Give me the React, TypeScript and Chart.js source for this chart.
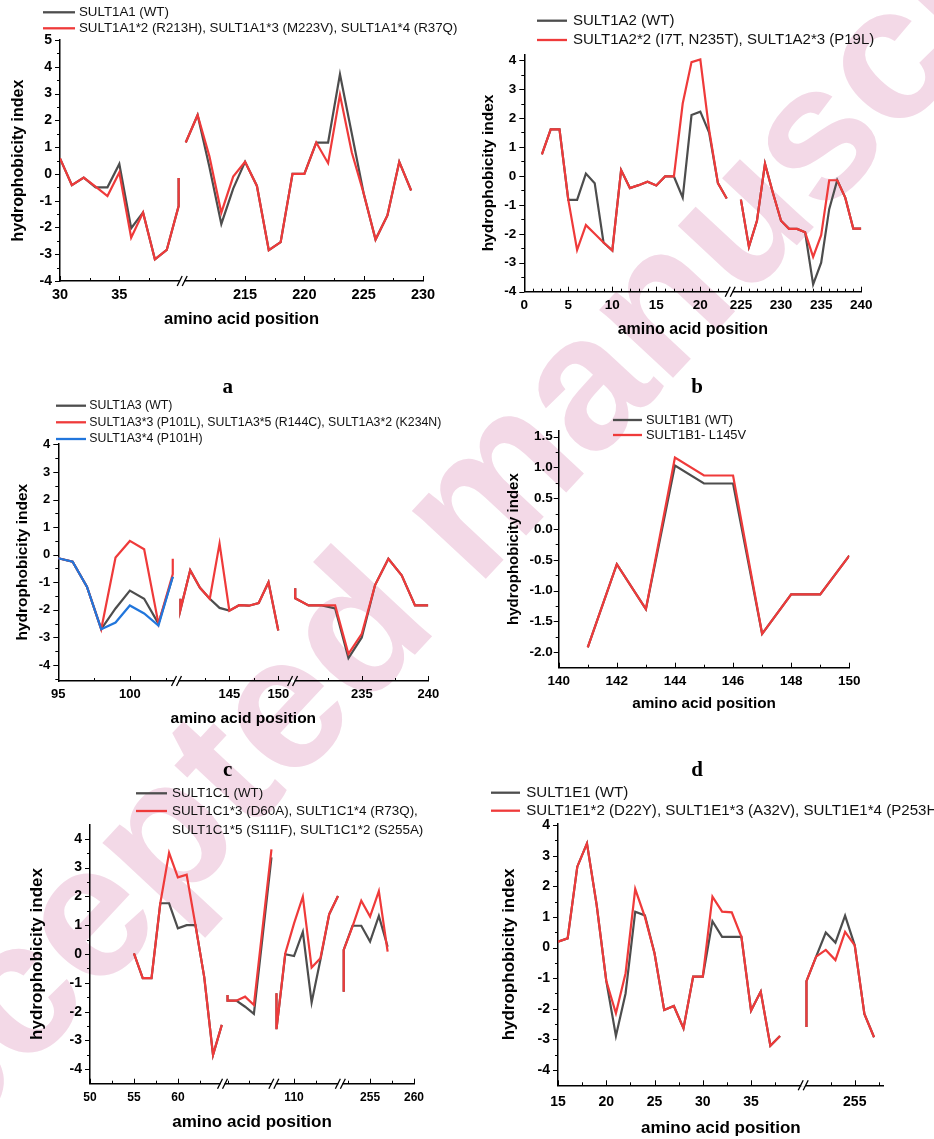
import React, { useEffect, useRef } from "react";
import { Chart, registerables } from "chart.js";

Chart.register(...registerables);

const SANS = '"Liberation Sans", Arial, Helvetica, sans-serif';
const SERIF = '"Liberation Serif", "Times New Roman", serif';
const GRAY = "#4d4d4d";
const RED = "#ef3a3a";
const BLUE = "#2176dc";

// ---------- Panel a : SULT1A1 ----------
const A_POS = [30, 31, 32, 33, 34, 35, 36, 37, 38, 39, 40, 40, null, 210, 211, 212, 213, 214, 215, 216, 217, 218, 219, 220, 221, 222, 223, 224, 225, 226, 227, 228, 229];
const A_WT = [0.58, -0.42, -0.14, -0.5, -0.5, 0.37, -2.03, -1.44, -3.19, -2.84, -1.2, -0.15, null, 1.17, 2.2, 0.25, -1.87, -0.55, 0.45, -0.45, -2.85, -2.55, 0, 0, 1.17, 1.17, 3.72, 1.5, -0.73, -2.45, -1.55, 0.45, -0.62];
const A_MUT = [0.58, -0.42, -0.14, -0.48, -0.83, 0.05, -2.38, -1.44, -3.19, -2.84, -1.2, -0.15, null, 1.17, 2.2, 0.65, -1.45, -0.1, 0.45, -0.45, -2.85, -2.55, 0, 0, 1.17, 0.4, 2.95, 0.8, -0.73, -2.45, -1.55, 0.45, -0.62];
const A_XTICKS = [30, 35, 215, 220, 225, 230];
const A_YTICKS = [-4, -3, -2, -1, 0, 1, 2, 3, 4, 5];

// ---------- Panel b : SULT1A2 ----------
const B_POS = [2, 3, 4, 5, 6, 7, 8, 9, 10, 11, 12, 13, 14, 15, 16, 17, 18, 19, 20, 21, 22, 23, null, 225, 226, 227, 228, 229, 230, 231, 232, 233, 234, 235, 236, 237, 238, 239, 240];
const B_WT = [0.74, 1.61, 1.61, -0.83, -0.83, 0.08, -0.25, -2.3, -2.58, 0.2, -0.42, -0.32, -0.2, -0.33, -0.02, -0.02, -0.75, 2.1, 2.22, 1.5, -0.25, -0.78, null, -0.82, -2.45, -1.55, 0.42, -0.6, -1.55, -1.83, -1.83, -1.95, -3.75, -3.0, -1.15, -0.15, -0.75, -1.82, -1.82];
const B_MUT = [0.74, 1.61, 1.61, -0.83, -2.56, -1.7, -2.0, -2.3, -2.58, 0.2, -0.42, -0.32, -0.2, -0.33, -0.02, -0.02, 2.5, 3.93, 4.02, 1.6, -0.25, -0.78, null, -0.82, -2.45, -1.55, 0.42, -0.6, -1.55, -1.83, -1.83, -1.95, -2.8, -2.05, -0.15, -0.15, -0.75, -1.82, -1.82];
const B_XTICKS = [0, 5, 10, 15, 20, 225, 230, 235, 240];
const B_YTICKS = [-4, -3, -2, -1, 0, 1, 2, 3, 4];

// ---------- Panel c : SULT1A3 ----------
const C_POS = [95, 96, 97, 98, 99, 100, 101, 102, 103, 103, null, 140, 140, 141, 142, 143, 144, 145, 146, 147, 148, 149, 150, null, 230, 230, 231, 232, 233, 234, 235, 236, 237, 238, 239, 240];
const C_WT = [-0.13, -0.25, -1.16, -2.7, -1.95, -1.3, -1.6, -2.5, -0.8, -0.8, null, -1.6, -2.0, -0.56, -1.2, -1.6, -1.93, -2.03, -1.83, -1.85, -1.75, -1.0, -2.75, null, -1.22, -1.58, -1.84, -1.84, -1.95, -3.75, -3.0, -1.1, -0.15, -0.75, -1.84, -1.84];
const C_MUT = [-0.13, -0.25, -1.16, -2.7, -0.1, 0.5, 0.2, -2.5, -0.7, -0.15, null, -1.6, -2.0, -0.56, -1.2, -1.6, 0.4, -2.03, -1.83, -1.85, -1.75, -1.0, -2.75, null, -1.22, -1.58, -1.84, -1.84, -1.84, -3.6, -2.87, -1.1, -0.15, -0.75, -1.84, -1.84];
const C_P101H = [-0.13, -0.25, -1.16, -2.7, -2.46, -1.84, -2.13, -2.57, -0.8, -0.8, null, null, null, null, null, null, null, null, null, null, null, null, null, null, null, null, null, null, null, null, null, null, null, null, null, null];
const C_XTICKS = [95, 100, 145, 150, 235, 240];
const C_YTICKS = [-4, -3, -2, -1, 0, 1, 2, 3, 4];

// ---------- Panel d : SULT1B1 ----------
const D_POS = [141, 142, 143, 144, 145, 146, 147, 148, 149, 150];
const D_WT = [-1.92, -0.57, -1.3, 1.03, 0.74, 0.74, -1.7, -1.06, -1.06, -0.43];
const D_MUT = [-1.92, -0.57, -1.3, 1.16, 0.87, 0.87, -1.7, -1.06, -1.06, -0.43];
const D_XTICKS = [140, 142, 144, 146, 148, 150];
const D_YTICKS = [-2, -1.5, -1, -0.5, 0, 0.5, 1, 1.5];

// ---------- Panel e : SULT1C1 ----------
const E_POS = [55, 56, 57, 58, 59, 60, 61, 62, 63, 64, 65, null, 70, 70, 71, 72, 73, 74, 75, null, 108, 108, 109, 110, 111, 112, 113, 114, 115, null, 252, 252, 253, 254, 255, 256, 257];
const E_WT = [0.02, -0.84, -0.84, 1.76, 1.76, 0.89, 1.0, 1.0, -0.8, -3.5, -2.46, null, -1.42, -1.62, -1.62, -1.83, -2.08, 0.63, 3.35, null, -1.36, -2.61, -0.01, -0.07, 0.77, -1.68, -0.2, 1.38, 2.01, null, -1.31, 0.14, 0.98, 0.98, 0.43, 1.32, 0.25];
const E_MUT = [0.02, -0.84, -0.84, 1.76, 3.51, 2.66, 2.75, 1.0, -0.8, -3.5, -2.46, null, -1.42, -1.62, -1.62, -1.48, -1.77, 0.93, 3.63, null, -1.36, -2.61, 0.02, 1.06, 1.99, -0.47, -0.15, 1.38, 2.01, null, -1.31, 0.14, 0.95, 1.85, 1.3, 2.18, 0.08];
const E_XTICKS = [50, 55, 60, 110, 255, 260];
const E_YTICKS = [-4, -3, -2, -1, 0, 1, 2, 3, 4];

// ---------- Panel f : SULT1E1 ----------
const F_POS = [15, 16, 17, 18, 19, 20, 21, 22, 23, 24, 25, 26, 27, 28, 29, 30, 31, 32, 33, 34, 35, 36, 37, 38, null, 250, 250, 251, 252, 253, 254, 255, 256, 257];
const F_WT = [0.19, 0.3, 2.64, 3.4, 1.4, -1.09, -2.89, -1.5, 1.17, 1.05, -0.19, -2.04, -1.91, -2.64, -0.95, -0.95, 0.86, 0.35, 0.35, 0.35, -2.06, -1.44, -3.21, -2.89, null, -2.6, -1.1, -0.3, 0.49, 0.16, 1.04, 0.07, -2.17, -2.93];
const F_MUT = [0.19, 0.3, 2.64, 3.4, 1.4, -1.09, -2.15, -0.84, 1.91, 1.0, -0.19, -2.04, -1.91, -2.64, -0.95, -0.95, 1.66, 1.17, 1.15, 0.35, -2.06, -1.44, -3.21, -2.89, null, -2.6, -1.1, -0.3, -0.08, -0.41, 0.51, 0.07, -2.17, -2.93];
const F_XTICKS = [15, 20, 25, 30, 35, 255];
const F_YTICKS = [-4, -3, -2, -1, 0, 1, 2, 3, 4];

// ---------- broken-axis segments (residue ranges shown on each axis) ----------
type Seg = { lo: number; hi: number; k: number };
const SEG_A: Seg[] = [{ lo: 30, hi: 40.3, k: 1 }, { lo: 209.7, hi: 230, k: 1 }];
const SEG_B: Seg[] = [{ lo: 0, hi: 23.4, k: 1 }, { lo: 223.67, hi: 240, k: 0.912 }];
const SEG_C: Seg[] = [{ lo: 95, hi: 103.26, k: 1 }, { lo: 139.6, hi: 151.46, k: 0.684 }, { lo: 229.8, hi: 240, k: 0.93 }];
const SEG_D: Seg[] = [{ lo: 140, hi: 150, k: 1 }];
const SEG_E: Seg[] = [{ lo: 50, hi: 65.08, k: 1 }, { lo: 69.43, hi: 75.27, k: 1 }, { lo: 107.7, hi: 115.27, k: 1 }, { lo: 251.62, hi: 260, k: 1 }];
const SEG_F: Seg[] = [{ lo: 15, hi: 40.4, k: 1 }, { lo: 249.66, hi: 258, k: 1 }];

type Rect = { x: number; y: number; w: number; h: number };
type Area = { l: number; t: number; r: number; b: number };
type SeriesDef = { label: string[]; values: (number | null)[]; color: string };
type PanelCfg = {
  box: Rect; area: Area; segs: Seg[]; pos: (number | null)[]; series: SeriesDef[];
  xTicks: number[]; xMinorStep: number; yTicks: number[]; yMinorStep: number;
  yMin: number; yMax: number; yDigits: number;
  xTickSize: number; yTickSize: number; xTitleSize: number; yTitleSize: number;
  xTickPad: number; yTickPad: number; xTitlePad: number; yTitlePad: number;
  legend: { x0: number; x1: number; tx: number; rows: number[]; size: number; gap: number };
};

const PANELS: PanelCfg[] = [
  {
    box: { x: 0, y: 0, w: 467, h: 345 }, area: { l: 60, t: 40, r: 423, b: 281 }, segs: SEG_A, pos: A_POS,
    series: [
      { label: ["SULT1A1 (WT)"], values: A_WT, color: GRAY },
      { label: ["SULT1A1*2 (R213H), SULT1A1*3 (M223V), SULT1A1*4 (R37Q)"], values: A_MUT, color: RED },
    ],
    xTicks: A_XTICKS, xMinorStep: 2.5, yTicks: A_YTICKS, yMinorStep: 0.5, yMin: -4, yMax: 5, yDigits: 0,
    xTickSize: 14.5, yTickSize: 14, xTitleSize: 16.5, yTitleSize: 16,
    xTickPad: 5.3, yTickPad: 8, xTitlePad: 16.1, yTitlePad: 9.4,
    legend: { x0: 43, x1: 75, tx: 79, rows: [12.3, 28.3], size: 13.3, gap: 16 },
  },
  {
    box: { x: 467, y: 0, w: 467, h: 345 }, area: { l: 524.3, t: 54.3, r: 861.3, b: 291.7 }, segs: SEG_B, pos: B_POS,
    series: [
      { label: ["SULT1A2 (WT)"], values: B_WT, color: GRAY },
      { label: ["SULT1A2*2 (I7T, N235T), SULT1A2*3 (P19L)"], values: B_MUT, color: RED },
    ],
    xTicks: B_XTICKS, xMinorStep: 1, yTicks: B_YTICKS, yMinorStep: 0.5, yMin: -4, yMax: 4.2, yDigits: 0,
    xTickSize: 13.5, yTickSize: 13.5, xTitleSize: 16, yTitleSize: 15.5,
    xTickPad: 5.2, yTickPad: 8, xTitlePad: 5.4, yTitlePad: 12.4,
    legend: { x0: 537, x1: 567, tx: 573, rows: [20.7, 40], size: 15, gap: 19 },
  },
  {
    box: { x: 0, y: 395, w: 467, h: 340 }, area: { l: 58.3, t: 443.3, r: 428.3, b: 681 }, segs: SEG_C, pos: C_POS,
    series: [
      { label: ["SULT1A3 (WT)"], values: C_WT, color: GRAY },
      { label: ["SULT1A3*3 (P101L), SULT1A3*5 (R144C), SULT1A3*2 (K234N)"], values: C_MUT, color: RED },
      { label: ["SULT1A3*4 (P101H)"], values: C_P101H, color: BLUE },
    ],
    xTicks: C_XTICKS, xMinorStep: 2.5, yTicks: C_YTICKS, yMinorStep: 0.5, yMin: -4.58, yMax: 4.04, yDigits: 0,
    xTickSize: 13, yTickSize: 13, xTitleSize: 15.5, yTitleSize: 15.5,
    xTickPad: 5.5, yTickPad: 8, xTitlePad: 6.7, yTitlePad: 13.4,
    legend: { x0: 56, x1: 86, tx: 89.3, rows: [405.7, 422.3, 439], size: 12.3, gap: 16 },
  },
  {
    box: { x: 467, y: 395, w: 467, h: 340 }, area: { l: 558.7, t: 430.5, r: 849.3, b: 667.7 }, segs: SEG_D, pos: D_POS,
    series: [
      { label: ["SULT1B1 (WT)"], values: D_WT, color: GRAY },
      { label: ["SULT1B1- L145V"], values: D_MUT, color: RED },
    ],
    xTicks: D_XTICKS, xMinorStep: 1, yTicks: D_YTICKS, yMinorStep: 0.25, yMin: -2.25, yMax: 1.6, yDigits: 1,
    xTickSize: 13.5, yTickSize: 13.5, xTitleSize: 15.3, yTitleSize: 15,
    xTickPad: 5.9, yTickPad: 6, xTitlePad: 21.8, yTitlePad: 37.7,
    legend: { x0: 613, x1: 642, tx: 646, rows: [420, 435], size: 12.9, gap: 15 },
  },
  {
    box: { x: 0, y: 780, w: 467, h: 359 }, area: { l: 90, t: 824.3, r: 414, b: 1083.7 }, segs: SEG_E, pos: E_POS,
    series: [
      { label: ["SULT1C1 (WT)"], values: E_WT, color: GRAY },
      { label: ["SULT1C1*3 (D60A), SULT1C1*4 (R73Q),", "SULT1C1*5 (S111F), SULT1C1*2 (S255A)"], values: E_MUT, color: RED },
    ],
    xTicks: E_XTICKS, xMinorStep: 2.5, yTicks: E_YTICKS, yMinorStep: 0.5, yMin: -4.5, yMax: 4.5, yDigits: 0,
    xTickSize: 12, yTickSize: 14, xTitleSize: 17, yTitleSize: 17,
    xTickPad: 6.8, yTickPad: 8, xTitlePad: 6.5, yTitlePad: 27.1,
    legend: { x0: 136, x1: 167, tx: 172, rows: [793.3, 811], size: 13.4, gap: 19 },
  },
  {
    box: { x: 467, y: 780, w: 467, h: 359 }, area: { l: 558, t: 823.5, r: 883.7, b: 1085.3 }, segs: SEG_F, pos: F_POS,
    series: [
      { label: ["SULT1E1 (WT)"], values: F_WT, color: GRAY },
      { label: ["SULT1E1*2 (D22Y), SULT1E1*3 (A32V), SULT1E1*4 (P253H)"], values: F_MUT, color: RED },
    ],
    xTicks: F_XTICKS, xMinorStep: 2.5, yTicks: F_YTICKS, yMinorStep: 0.5, yMin: -4.5, yMax: 4.05, yDigits: 0,
    xTickSize: 14, yTickSize: 14, xTitleSize: 17, yTitleSize: 17,
    xTickPad: 8, yTickPad: 8, xTitlePad: 0.8, yTitlePad: 32.5,
    legend: { x0: 491, x1: 520, tx: 526.3, rows: [792.7, 810.7], size: 15.1, gap: 18 },
  },
];

const LETTERS = [
  { t: "a", x: 227.7, y: 394 },
  { t: "b", x: 697, y: 394 },
  { t: "c", x: 227.7, y: 777 },
  { t: "d", x: 697, y: 777 },
];

function makeMap(segs: Seg[]) {
  const starts: number[] = [];
  let acc = 0;
  segs.forEach((s) => {
    starts.push(acc);
    acc += (s.hi - s.lo) * s.k;
  });
  const map = (p: number | null): number | null => {
    if (p === null || p === undefined) return null;
    for (let i = 0; i < segs.length; i++) {
      const s = segs[i];
      if (p >= s.lo - 1e-6 && p <= s.hi + 1e-6) return starts[i] + (p - s.lo) * s.k;
    }
    return null;
  };
  return { map, total: acc, breaks: starts.slice(1) };
}

function minorX(segs: Seg[], step: number, majors: number[]) {
  const out: number[] = [];
  segs.forEach((s) => {
    for (let v = Math.ceil(s.lo / step - 1e-9) * step; v <= s.hi + 1e-9; v += step) {
      const vv = Math.round(v * 1000) / 1000;
      if (vv - s.lo < 0.45 || s.hi - vv < 0.45) continue;
      if (majors.some((m) => Math.abs(m - vv) < 1e-6)) continue;
      out.push(vv);
    }
  });
  return out;
}

function minorY(min: number, max: number, step: number, majors: number[]) {
  const out: number[] = [];
  for (let v = Math.ceil(min / step - 1e-9) * step; v <= max + 1e-9; v += step) {
    const vv = Math.round(v * 1000) / 1000;
    if (vv - min < 0.02 || max - vv < 0.02) continue;
    if (majors.some((m) => Math.abs(m - vv) < 1e-6)) continue;
    out.push(vv);
  }
  return out;
}

function Panel({ cfg }: { cfg: PanelCfg }) {
  const ref = useRef<HTMLCanvasElement | null>(null);
  useEffect(() => {
    const canvas = ref.current;
    if (!canvas) return;
    const { box, area } = cfg;
    const m = makeMap(cfg.segs);
    const n = cfg.series.length;
    const datasets = cfg.series.map((s, i) => ({
      label: s.label.join(" "),
      data: cfg.pos.map((p, j) => ({ x: p === null ? null : m.map(p), y: s.values[j] })),
      borderColor: s.color,
      backgroundColor: s.color,
      borderWidth: 2.2,
      pointRadius: 0,
      tension: 0,
      fill: false,
      spanGaps: false,
      order: n - i,
    }));
    const xMinor = minorX(cfg.segs, cfg.xMinorStep, cfg.xTicks);
    const yMinor = minorY(cfg.yMin, cfg.yMax, cfg.yMinorStep, cfg.yTicks);

    const deco = {
      id: "deco",
      afterDraw(chart: any) {
        const ctx = chart.ctx as CanvasRenderingContext2D;
        const xs = chart.scales.x;
        const ys = chart.scales.y;
        const { left, bottom } = chart.chartArea;
        ctx.save();
        ctx.strokeStyle = "#000";
        ctx.lineWidth = 1;
        ctx.beginPath();
        cfg.xTicks.forEach((p) => {
          const px = Math.round(xs.getPixelForValue(m.map(p))) + 0.5;
          ctx.moveTo(px, bottom);
          ctx.lineTo(px, bottom - 5);
        });
        xMinor.forEach((p) => {
          const px = Math.round(xs.getPixelForValue(m.map(p))) + 0.5;
          ctx.moveTo(px, bottom);
          ctx.lineTo(px, bottom - 3);
        });
        cfg.yTicks.forEach((v) => {
          const py = Math.round(ys.getPixelForValue(v)) + 0.5;
          ctx.moveTo(left, py);
          ctx.lineTo(left - 5, py);
        });
        yMinor.forEach((v) => {
          const py = Math.round(ys.getPixelForValue(v)) + 0.5;
          ctx.moveTo(left, py);
          ctx.lineTo(left - 3, py);
        });
        ctx.stroke();
        // axis-break marks
        ctx.lineWidth = 1.3;
        m.breaks.forEach((b) => {
          const px = xs.getPixelForValue(b);
          ctx.fillStyle = "#fff";
          ctx.fillRect(px - 2, bottom - 1.5, 4, 3);
          ctx.beginPath();
          [-2.5, 2.5].forEach((d) => {
            ctx.moveTo(px + d - 2.5, bottom + 5);
            ctx.lineTo(px + d + 2.5, bottom - 5);
          });
          ctx.stroke();
        });
        // legend
        const lg = cfg.legend;
        ctx.font = `${lg.size}px ${SANS}`;
        ctx.textBaseline = "middle";
        ctx.textAlign = "left";
        cfg.series.forEach((s, i) => {
          const y = lg.rows[i] - box.y;
          ctx.strokeStyle = s.color;
          ctx.lineWidth = 2.3;
          ctx.beginPath();
          ctx.moveTo(lg.x0 - box.x, y);
          ctx.lineTo(lg.x1 - box.x, y);
          ctx.stroke();
          ctx.fillStyle = "#111";
          s.label.forEach((line, k) => {
            ctx.fillText(line, lg.tx - box.x, y + k * lg.gap);
          });
        });
        ctx.restore();
      },
    };

    const chart = new Chart(canvas, {
      type: "line",
      data: { datasets } as any,
      options: {
        animation: false,
        responsive: false,
        maintainAspectRatio: false,
        events: [],
        layout: {
          padding: { left: 0, top: area.t - box.y, right: box.x + box.w - area.r, bottom: 0 },
        },
        plugins: { legend: { display: false }, tooltip: { enabled: false } },
        scales: {
          x: {
            type: "linear",
            min: 0,
            max: m.total,
            offset: false,
            grid: { display: false, drawTicks: false },
            border: { display: true, color: "#000", width: 1.5 },
            ticks: {
              autoSkip: false,
              maxRotation: 0,
              minRotation: 0,
              padding: cfg.xTickPad,
              color: "#000",
              font: { family: SANS, size: cfg.xTickSize, weight: "bold" },
              callback: (_v: any, i: number) => String(cfg.xTicks[i]),
            },
            afterBuildTicks: (s: any) => {
              s.ticks = cfg.xTicks.map((p) => ({ value: m.map(p) as number }));
            },
            afterFit: (s: any) => {
              s.height = box.y + box.h - area.b;
            },
            title: {
              display: true,
              text: "amino acid position",
              color: "#000",
              font: { family: SANS, size: cfg.xTitleSize, weight: "bold" },
              padding: { top: 0, bottom: cfg.xTitlePad },
            },
          },
          y: {
            type: "linear",
            min: cfg.yMin,
            max: cfg.yMax,
            grid: { display: false, drawTicks: false },
            border: { display: true, color: "#000", width: 1.5 },
            ticks: {
              padding: cfg.yTickPad,
              color: "#000",
              font: { family: SANS, size: cfg.yTickSize, weight: "bold" },
              callback: (v: any) => Number(v).toFixed(cfg.yDigits),
            },
            afterBuildTicks: (s: any) => {
              s.ticks = cfg.yTicks.map((v) => ({ value: v }));
            },
            afterFit: (s: any) => {
              s.width = area.l - box.x;
            },
            title: {
              display: true,
              text: "hydrophobicity index",
              color: "#000",
              font: { family: SANS, size: cfg.yTitleSize, weight: "bold" },
              padding: { top: cfg.yTitlePad, bottom: 0 },
            },
          },
        },
      } as any,
      plugins: [deco],
    });
    return () => chart.destroy();
  }, [cfg]);

  return (
    <canvas
      ref={ref}
      width={cfg.box.w}
      height={cfg.box.h}
      style={{ position: "absolute", left: cfg.box.x, top: cfg.box.y, width: cfg.box.w, height: cfg.box.h }}
    />
  );
}

export default function App() {
  return (
    <div
      style={{
        position: "absolute",
        left: 0,
        top: 0,
        width: 934,
        height: 1139,
        background: "#fff",
        overflow: "hidden",
      }}
    >
      <div
        style={{
          position: "absolute",
          left: 468,
          top: 501,
          transform: "translate(-50%, -50%) rotate(-47deg)",
          fontFamily: SANS,
          fontWeight: "bold",
          fontSize: 190,
          lineHeight: 1,
          color: "#f3d9e7",
          whiteSpace: "nowrap",
        }}
      >
        Accepted manuscript
      </div>
      {PANELS.map((p, i) => (
        <Panel key={i} cfg={p} />
      ))}
      {LETTERS.map((l) => (
        <div
          key={l.t}
          style={{
            position: "absolute",
            left: l.x - 20,
            top: l.y - 17.6,
            width: 40,
            textAlign: "center",
            fontFamily: SERIF,
            fontWeight: "bold",
            fontSize: 21,
            lineHeight: 1,
            color: "#000",
          }}
        >
          {l.t}
        </div>
      ))}
    </div>
  );
}
